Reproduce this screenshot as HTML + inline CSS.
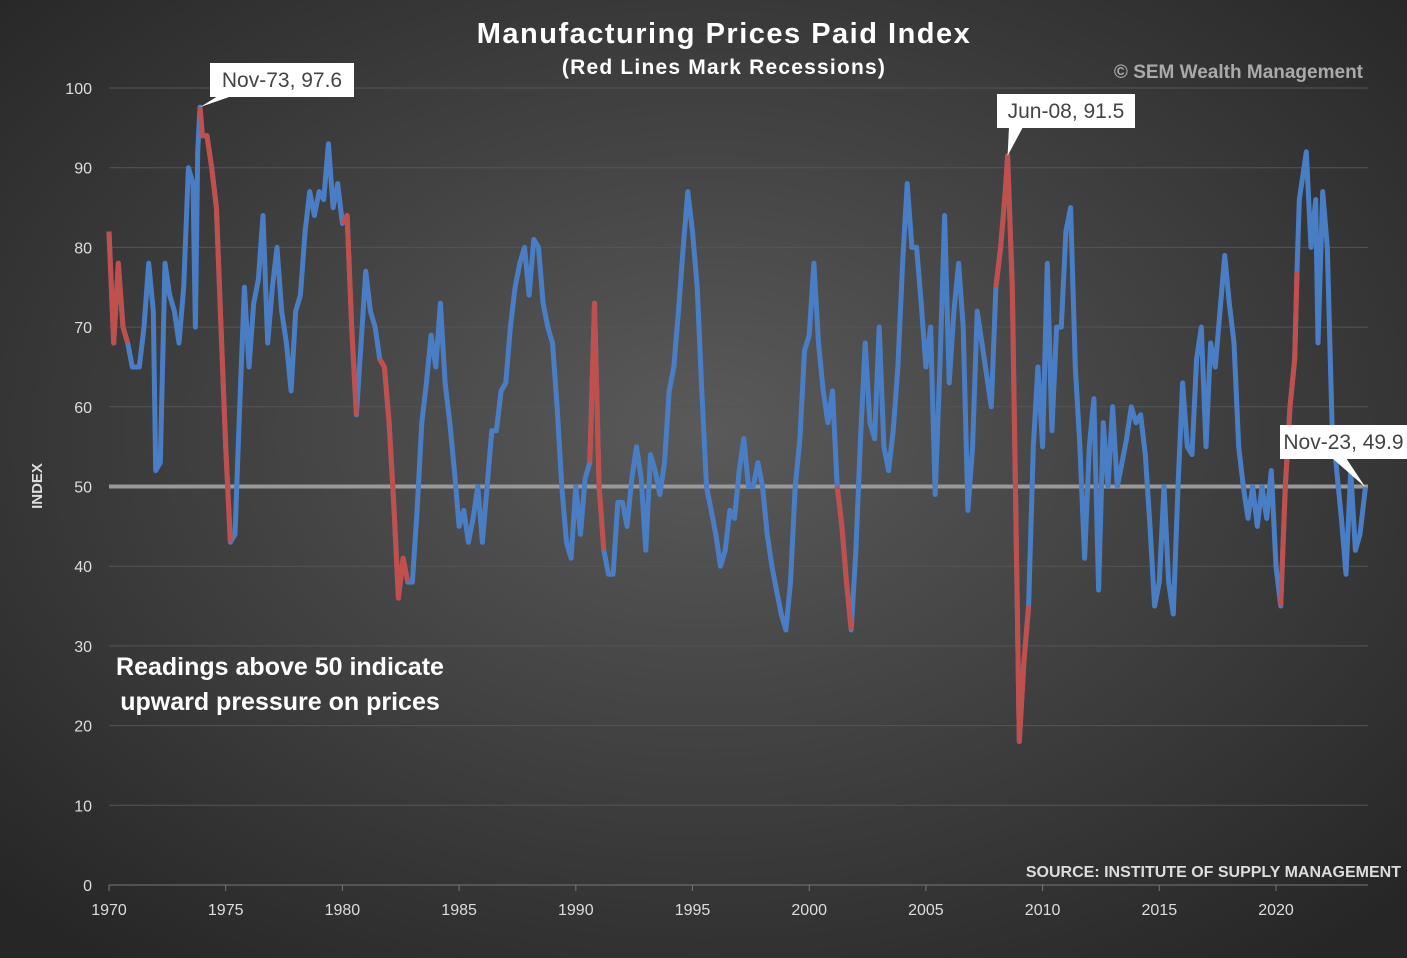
<!DOCTYPE html>
<html><head><meta charset="utf-8"><style>
body{margin:0;width:1407px;height:958px;overflow:hidden;background:#333}
svg{display:block;font-family:"Liberation Sans",sans-serif}
</style></head><body>
<svg width="1407" height="958">
<defs><radialGradient id="bg" cx="50%" cy="45%" r="70%"><stop offset="0" stop-color="#5a5a5a"/><stop offset="1" stop-color="#262626"/></radialGradient></defs>
<rect width="1407" height="958" fill="url(#bg)"/>
<text x="724" y="43" fill="#fff" font-size="29" font-weight="bold" text-anchor="middle" letter-spacing="1.5">Manufacturing Prices Paid Index</text>
<text x="724" y="74" fill="#fff" font-size="21" font-weight="bold" text-anchor="middle" letter-spacing="1.2">(Red Lines Mark Recessions)</text>
<text x="1363" y="78" fill="#aaa" font-size="19" font-weight="bold" text-anchor="end">© SEM Wealth Management</text>
<text x="1401" y="877" fill="#ddd" font-size="16" font-weight="bold" text-anchor="end">SOURCE:  INSTITUTE OF SUPPLY MANAGEMENT</text>
<text transform="translate(42,486) rotate(-90)" fill="#ddd" font-size="15" font-weight="bold" text-anchor="middle">INDEX</text>
<text x="280" y="675" fill="#fff" font-size="25" font-weight="bold" text-anchor="middle">Readings above 50 indicate</text>
<text x="280" y="710" fill="#fff" font-size="25" font-weight="bold" text-anchor="middle">upward pressure on prices</text>
<g id="grid"></g><g id="axes"></g><g id="series"></g><g id="ann"></g>
</svg>
<script>
const dates=[1970.0,1970.2,1970.4,1970.6,1970.8,1971.0,1971.3,1971.5,1971.7,1971.9,1972.0,1972.2,1972.4,1972.6,1972.8,1973.0,1973.2,1973.4,1973.6,1973.7,1973.8,1973.9,1974.0,1974.2,1974.4,1974.6,1974.8,1975.0,1975.2,1975.4,1975.6,1975.8,1976.0,1976.2,1976.4,1976.6,1976.8,1977.0,1977.2,1977.4,1977.6,1977.8,1978.0,1978.2,1978.4,1978.6,1978.8,1979.0,1979.2,1979.4,1979.6,1979.8,1980.0,1980.2,1980.4,1980.6,1980.8,1981.0,1981.2,1981.4,1981.6,1981.8,1982.0,1982.2,1982.4,1982.6,1982.8,1983.0,1983.2,1983.4,1983.6,1983.8,1984.0,1984.2,1984.4,1984.6,1984.8,1985.0,1985.2,1985.4,1985.6,1985.8,1986.0,1986.2,1986.4,1986.6,1986.8,1987.0,1987.2,1987.4,1987.6,1987.8,1988.0,1988.2,1988.4,1988.6,1988.8,1989.0,1989.2,1989.4,1989.6,1989.8,1990.0,1990.2,1990.4,1990.6,1990.8,1991.0,1991.2,1991.4,1991.6,1991.8,1992.0,1992.2,1992.4,1992.6,1992.8,1993.0,1993.2,1993.4,1993.6,1993.8,1994.0,1994.2,1994.4,1994.6,1994.8,1995.0,1995.2,1995.4,1995.6,1995.8,1996.0,1996.2,1996.4,1996.6,1996.8,1997.0,1997.2,1997.4,1997.6,1997.8,1998.0,1998.2,1998.4,1998.6,1998.8,1999.0,1999.2,1999.4,1999.6,1999.8,2000.0,2000.2,2000.4,2000.6,2000.8,2001.0,2001.2,2001.4,2001.6,2001.8,2002.0,2002.2,2002.4,2002.6,2002.8,2003.0,2003.2,2003.4,2003.6,2003.8,2004.0,2004.2,2004.4,2004.6,2004.8,2005.0,2005.2,2005.4,2005.6,2005.8,2006.0,2006.2,2006.4,2006.6,2006.8,2007.0,2007.2,2007.4,2007.6,2007.8,2008.0,2008.2,2008.4,2008.5,2008.7,2008.9,2009.0,2009.2,2009.4,2009.6,2009.8,2010.0,2010.2,2010.4,2010.6,2010.8,2011.0,2011.2,2011.4,2011.6,2011.8,2012.0,2012.2,2012.4,2012.6,2012.8,2013.0,2013.2,2013.4,2013.6,2013.8,2014.0,2014.2,2014.4,2014.6,2014.8,2015.0,2015.2,2015.4,2015.6,2015.8,2016.0,2016.2,2016.4,2016.6,2016.8,2017.0,2017.2,2017.4,2017.6,2017.8,2018.0,2018.2,2018.4,2018.6,2018.8,2019.0,2019.2,2019.4,2019.6,2019.8,2020.0,2020.2,2020.4,2020.6,2020.8,2020.9,2021.0,2021.2,2021.3,2021.5,2021.7,2021.8,2022.0,2022.2,2022.4,2022.6,2022.8,2023.0,2023.2,2023.4,2023.6,2023.83];
const values=[82,68,78,70,68,65,65,70,78,72,52,53,78,74,72,68,75,90,88,70,92,97.6,94,94,90,85,70,55,43,44,60,75,65,73,76,84,68,75,80,72,68,62,72,74,82,87,84,87,86,93,85,88,83,84,70,59,68,77,72,70,66,65,58,48,36,41,38,38,47,58,63,69,65,73,63,58,52,45,47,43,46,50,43,50,57,57,62,63,70,75,78,80,74,81,80,73,70,68,60,50,43,41,50,44,51,53,73,50,42,39,39,48,48,45,51,55,51,42,54,52,49,53,62,65,72,80,87,82,75,62,50,47,44,40,42,47,46,52,56,50,50,53,50,44,40,37,34,32,38,50,56,67,69,78,68,62,58,62,50,45,38,32,42,56,68,58,56,70,55,52,57,65,78,88,80,80,73,65,70,49,65,84,63,72,78,70,47,55,72,68,64,60,75,80,87,91.5,75,38,18,28,35,55,65,55,78,57,70,70,82,85,65,55,41,55,61,37,58,50,60,50,53,56,60,58,59,54,45,35,38,50,38,34,50,63,55,54,66,70,55,68,65,72,79,73,68,55,50,46,50,45,50,46,52,40,35,50,60,66,77,86,90,92,80,86,68,87,80,58,52,46,39,52,42,44,49.9];
const recessions=[[1970.0,1970.9],[1973.9,1975.2],[1980.0,1980.6],[1981.5,1982.9],[1990.6,1991.3],[2001.2,2001.9],[2007.9,2009.5],[2020.1,2020.9]];
const yTicks=[0,10,20,30,40,50,60,70,80,90,100];
const xTicks=[1970,1975,1980,1985,1990,1995,2000,2005,2010,2015,2020];
const NS='http://www.w3.org/2000/svg';
const X=d=>109+(d-1970)*23.34, Y=v=>885-v*7.97;
function mk(t,a,p){const e=document.createElementNS(NS,t);for(const k in a)e.setAttribute(k,a[k]);p.appendChild(e);return e;}
const grid=document.getElementById('grid'),axes=document.getElementById('axes'),ser=document.getElementById('series'),ann=document.getElementById('ann');
yTicks.forEach(v=>{const l=mk('line',{x1:109,x2:1368,y1:Y(v),y2:Y(v),stroke:v===0?'#777':'#555','stroke-width':1},grid);


const t=mk('text',{x:92,y:Y(v)+6,fill:'#ddd','font-size':16,'text-anchor':'end'},axes);t.textContent=v;

});
xTicks.forEach(d=>{const t=mk('text',{x:X(d),y:915,fill:'#ddd','font-size':16,'text-anchor':'middle'},axes);t.textContent=d;


const k=mk('line',{x1:X(d),x2:X(d),y1:885,y2:891,stroke:'#777'},axes);

});
const ref=mk('line',{x1:109,x2:1368,y1:Y(50),y2:Y(50),stroke:'#999','stroke-width':4},ser);


const pts=dates.map((d,i)=>X(d).toFixed(1)+','+Y(values[i]).toFixed(1)).join(' ');
const bl=mk('polyline',{points:pts,fill:'none',stroke:'#4a7ec4','stroke-width':5,'stroke-linejoin':'round'},ser);


recessions.forEach(r=>{const p=[];dates.forEach((d,i)=>{if(d>=r[0]-0.001&&d<=r[1]+0.001)p.push(X(d).toFixed(1)+','+Y(values[i]).toFixed(1));});
if(p.length>1){const rl=mk('polyline',{points:p.join(' '),fill:'none',stroke:'#c0504d','stroke-width':5,'stroke-linejoin':'round'},ser);

}});
function callout(i,label,bx,by,bw,name,tx){const px=X(dates[i]),py=Y(values[i]);
const g=mk('g',{},ann);


mk('polygon',{points:`${px},${py} ${bx+tx},${by+33} ${bx+tx+14},${by+33}`,fill:'#fff'},g);
mk('rect',{x:bx,y:by,width:bw,height:34,fill:'#fff'},g);
const t=mk('text',{x:bx+bw/2,y:by+24,fill:'#444','font-size':21,'text-anchor':'middle'},g);t.textContent=label;}
callout(21,'Nov-73, 97.6',210,63,144,'callout-peak-1973',8);
callout(dates.indexOf(2008.5),'Jun-08, 91.5',997,94,138,'callout-peak-2008',12);
callout(dates.length-1,'Nov-23, 49.9',1280,425,127,'callout-latest',52);
</script>
</body></html>
